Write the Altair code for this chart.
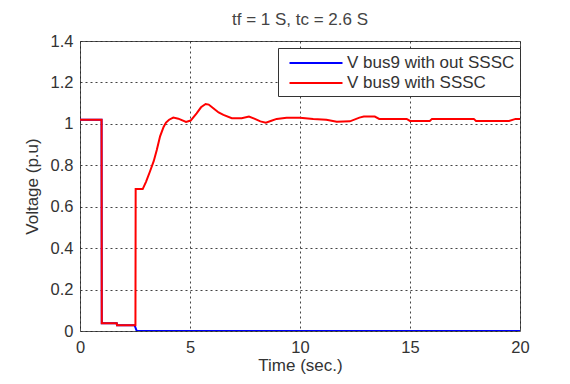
import altair as alt
import pandas as pd

# Series: V bus9 with SSSC (red)
t_sssc = [0, 0.98, 0.99, 1.67, 1.68, 2.52, 2.53, 2.85, 3.0, 3.18, 3.35, 3.49, 3.64, 3.8, 3.91,
          4.05, 4.24, 4.47, 4.82, 5.03, 5.3, 5.5, 5.71, 5.85, 6.06, 6.3, 6.52, 6.9, 7.35,
          7.68, 7.95, 8.2, 8.45, 8.7, 8.94, 9.39, 10.0, 10.6, 11.2, 11.67, 12.27, 12.7,
          12.9, 13.4, 13.6, 14.85, 15.0, 15.9, 16.0, 17.9, 18.0, 19.5, 19.8, 20.0]
v_sssc = [1.02, 1.02, 0.037, 0.037, 0.028, 0.028, 0.685, 0.685, 0.72, 0.77, 0.82, 0.874, 0.94, 0.985, 1.006,
          1.02, 1.03, 1.025, 1.009, 1.016, 1.051, 1.08, 1.096, 1.093, 1.075, 1.055, 1.043, 1.027, 1.027,
          1.035, 1.024, 1.012, 1.006, 1.015, 1.024, 1.03, 1.03, 1.024, 1.02, 1.01, 1.012, 1.03,
          1.035, 1.035, 1.024, 1.024, 1.014, 1.014, 1.024, 1.024, 1.014, 1.014, 1.024, 1.024]

# Series: V bus9 without SSSC (blue)
t_nosssc = [0, 0.98, 0.99, 1.67, 1.68, 2.48, 2.58, 20.0]
v_nosssc = [1.02, 1.02, 0.037, 0.037, 0.028, 0.028, 0.0, 0.0]

series_names = ["V bus9 with out SSSC", "V bus9 with SSSC"]
series_colors = ["#0000ff", "#ff0000"]
x_ticks = [0, 5, 10, 15, 20]
y_ticks = [0, 0.2, 0.4, 0.6, 0.8, 1.0, 1.2, 1.4]

df = pd.concat([
    pd.DataFrame({"t": t_nosssc, "v": v_nosssc, "series": series_names[0],
                  "i": range(len(t_nosssc))}),
    pd.DataFrame({"t": t_sssc, "v": v_sssc, "series": series_names[1],
                  "i": range(len(t_sssc))}),
])

FONT = "Liberation Sans"

x_enc = alt.X("t:Q", scale=alt.Scale(domain=[0, 20], nice=False, zero=False),
              axis=alt.Axis(values=x_ticks, title="Time (sec.)", labelPadding=8,
                            titlePadding=2, labelFlush=False, format="~g"))
y_enc = alt.Y("v:Q", scale=alt.Scale(domain=[0, 1.4], nice=False),
              axis=alt.Axis(values=y_ticks, title="Voltage (p.u)", labelPadding=7,
                            titlePadding=9, labelFlush=False, format="~g"))
color_enc = alt.Color(
    "series:N",
    scale=alt.Scale(domain=series_names, range=series_colors),
    legend=alt.Legend(
        title=None, orient="none", legendX=198, legendY=7,
        symbolType="M-3,0H3", symbolSize=312, symbolStrokeWidth=2,
        symbolOffset=23,
        labelFont=FONT, labelFontSize=17, labelColor="#333", labelOffset=21,
        labelLimit=0,
        strokeColor="#333", fillColor="white", padding=5, rowPadding=2,
    ),
)

base = alt.Chart(df)
blue = base.transform_filter(alt.datum.series == series_names[0]).mark_line(
    strokeWidth=2, clip=True).encode(x=x_enc, y=y_enc, color=color_enc, order="i:Q")
red = base.transform_filter(alt.datum.series == series_names[1]).mark_line(
    strokeWidth=2, clip=True).encode(x=x_enc, y=y_enc, color=color_enc, order="i:Q")

chart = alt.layer(blue, red).properties(
    width=440, height=290,
    title=alt.TitleParams("tf = 1 S, tc = 2.6 S", fontSize=17, fontWeight="normal",
                          font=FONT, color="#444", offset=4, anchor="middle"),
    autosize=alt.AutoSizeParams(type="none"),
    padding={"left": 72, "top": 33, "right": 42, "bottom": 45},
    background="white",
).configure_axis(
    grid=True, gridDash=[2, 3], gridColor="#222", gridOpacity=0.85, gridWidth=1,
    ticks=False, domain=False,
    labelFont=FONT, labelFontSize=16.5, labelColor="#333",
    titleFont=FONT, titleFontSize=17, titleFontWeight="normal", titleColor="#333",
).configure_view(stroke="#555", strokeWidth=1)

chart.save("out.html", embed_options={"renderer": "svg", "actions": False})
